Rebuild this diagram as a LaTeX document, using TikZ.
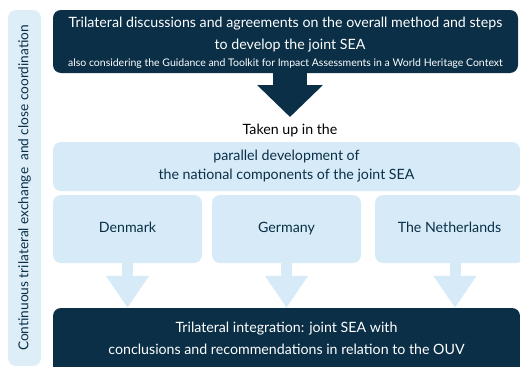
\documentclass[tikz,border=0pt]{standalone}
\usepackage{fontspec}
\setmainfont{Lato}
\usepackage{tikz}
\usetikzlibrary{arrows.meta}
\definecolor{custom_navy}{HTML}{0a2f47}
\definecolor{custom_light}{HTML}{d6eaf8}
\definecolor{custom_bar}{HTML}{ddeef9}

\tikzset{
  darkbox/.style={fill=custom_navy, text=white, rounded corners=8pt, inner sep=0pt, align=center},
  lightbox/.style={fill=custom_light, text=custom_navy, rounded corners=8pt, inner sep=0pt, align=center},
  countrybox/.style={lightbox, minimum width=149pt, minimum height=68pt, text height=10pt, text depth=3pt},
  darkarrow/.style={custom_navy, line width=34pt, -{Triangle[width=64pt, length=32pt]}},
  lightarrow/.style={custom_light, line width=11pt, -{Triangle[width=41pt, length=32pt]}}
}

\begin{document}
\begin{tikzpicture}[x=1pt, y=-1pt, font=\fontsize{14.2}{17}\selectfont]

      % Fix the frame
      \useasboundingbox (0, 0) rectangle (520, 367);
      \clip (0, 0) rectangle (520, 367);

      % Draw the side bar
      \node[lightbox, fill=custom_bar, minimum width=33pt, minimum height=356pt] (bar) at (24.5, 188) {};
      \node[text=custom_navy, rotate=90, font=\fontsize{13.7}{16}\selectfont] (bartext) at (bar.center) {Continuous trilateral exchange\ \ and close coordination};

      % Draw the top box
      \node[darkbox, minimum width=465pt, minimum height=63pt] (method) at (285.5, 41.5) {};
      \node[text=white] (method1) at (285.5, 24) {Trilateral discussions and agreements on the overall method and steps};
      \node[text=white] (method2) at (290, 46) {to develop the joint SEA};
      \node[text=white, font=\fontsize{10.5}{12}\selectfont] (method3) at (285.5, 63.5) {also considering the Guidance and Toolkit for Impact Assessments in a World Heritage Context};

      % Draw the big arrow
      \coordinate (tip) at (290, 117);
      \draw[darkarrow] (method.south -| tip) -- (tip);
      \node[text=black] (taken) at (290, 130) {Taken up in the};

      % Draw the national part
      \node[lightbox, minimum width=467pt, minimum height=49pt] (parallel) at (286.5, 166.5) {parallel development of\\[2pt] the national components of the joint SEA};
      \node[countrybox] (dk) at (127.5, 229) {Denmark};
      \node[countrybox] (de) at (286.5, 229) {Germany};
      \node[countrybox] (nl) at (449.5, 229) {The Netherlands};

      % Draw the bottom box
      \node[darkbox, minimum width=467pt, minimum height=67pt] (joint) at (286.5, 341.5) {};
      \node[text=white] (joint1) at (286.5, 328.5) {Trilateral integration: joint SEA with};
      \node[text=white] (joint2) at (286.5, 349) {conclusions and recommendations in relation to the OUV};

      % Draw the small arrows
      \draw[lightarrow] (dk.south) -- (dk.south |- joint.north);
      \draw[lightarrow] (de.south) -- (de.south |- joint.north);
      \draw[lightarrow] ([xshift=5.5pt]nl.south) -- ([xshift=5.5pt]nl.south |- joint.north);

\end{tikzpicture}
\end{document}
